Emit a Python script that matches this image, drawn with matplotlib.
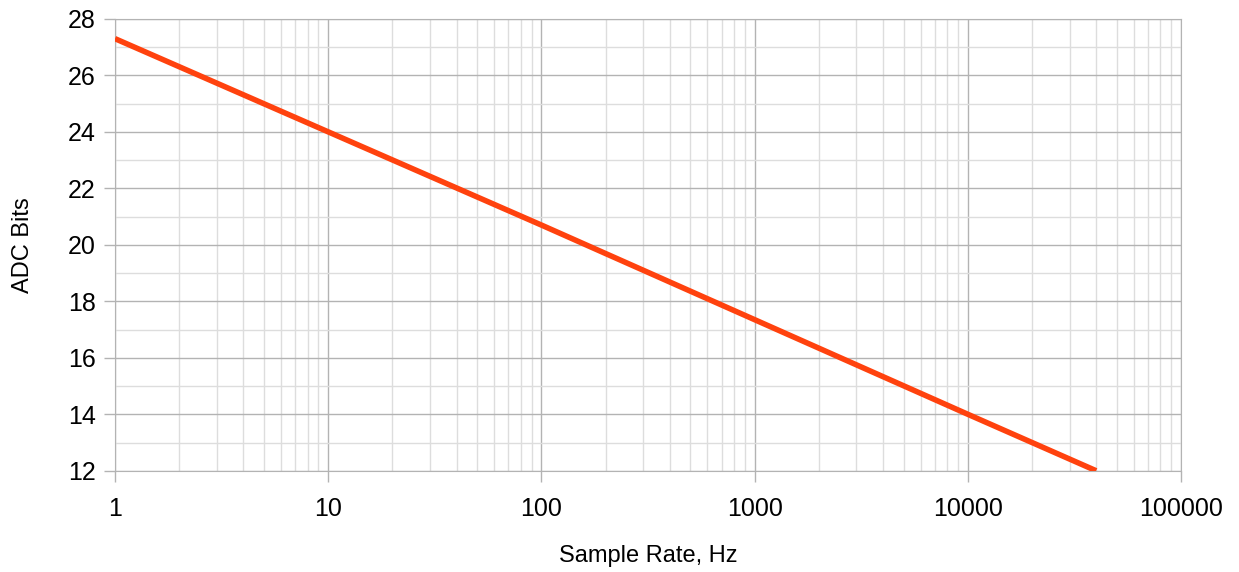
import matplotlib
matplotlib.use("Agg")
import matplotlib.pyplot as plt
import matplotlib.ticker as mticker

sample_rate = [1, 10, 100, 1000, 10000, 40000]
adc_bits = [27.3, 24.0, 20.7, 17.35, 14.0, 12.0]

plt.rcParams["font.family"] = ["Liberation Sans", "DejaVu Sans"]

fig = plt.figure(figsize=(12.39, 5.72), dpi=100)
ax = fig.add_axes([0.0928, 0.177, 0.8604, 0.790])

ax.plot(sample_rate, adc_bits, color="#ff420e", linewidth=4, solid_capstyle="butt", zorder=3)

ax.set_xscale("log")
ax.set_xlim(1, 100000)
ax.set_ylim(12, 28)
ax.xaxis.set_major_locator(mticker.LogLocator(base=10, numticks=10))
ax.xaxis.set_minor_locator(mticker.LogLocator(base=10, subs=range(2, 10), numticks=10))
ax.xaxis.set_major_formatter(mticker.FuncFormatter(lambda v, p: "%d" % v))
ax.xaxis.set_minor_formatter(mticker.NullFormatter())
ax.yaxis.set_major_locator(mticker.MultipleLocator(2))
ax.yaxis.set_minor_locator(mticker.MultipleLocator(1))

ax.grid(which="major", color="#b3b3b3", linewidth=1)
ax.grid(which="minor", color="#dddddd", linewidth=1)
ax.set_axisbelow(True)
for s in ax.spines.values():
    s.set_color("#b3b3b3")

ax.tick_params(which="major", length=8, width=1, color="#b3b3b3", labelsize=18, pad=6)
ax.tick_params(axis="x", which="major", pad=11)
ax.tick_params(which="minor", length=0)

ax.set_xlabel("Sample Rate, Hz", fontsize=17, labelpad=17)
ax.set_ylabel("ADC Bits", fontsize=17, labelpad=24)

fig.savefig("out.png", dpi=100)
